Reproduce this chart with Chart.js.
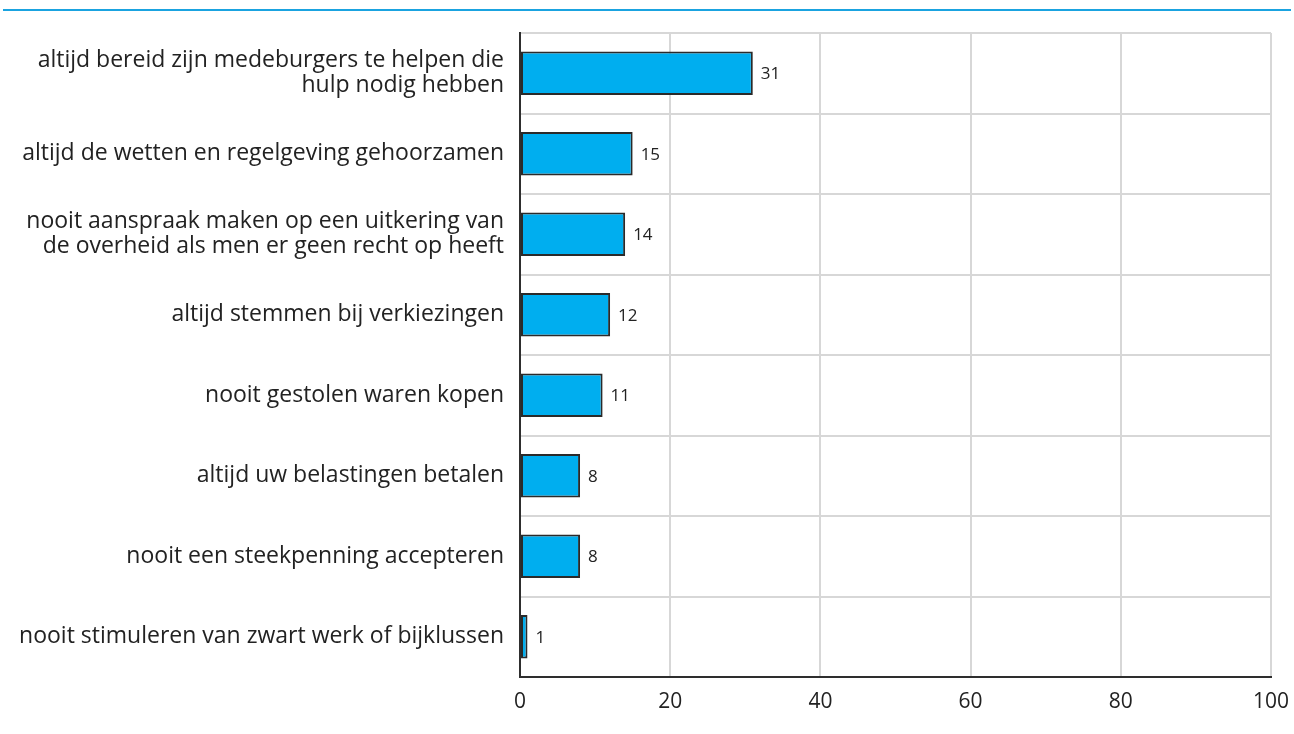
<!DOCTYPE html>
<html>
<head>
<meta charset="utf-8">
<script src="https://cdn.jsdelivr.net/npm/chart.js@4/dist/chart.umd.min.js"></script>
<style>
  html, body { margin: 0; padding: 0; background: #fff; }
  #wrap { position: relative; width: 1294px; height: 734px; }
  #topline { position: absolute; left: 3px; top: 9px; width: 1288px; height: 2px; background: #1aa3e0; }
  canvas { position: absolute; left: 0; top: 0; }
</style>
</head>
<body>
<div id="wrap">
  <canvas id="c" width="1294" height="734"></canvas>
  <div id="topline"></div>
</div>
<script>
const categories = [
  ["altijd bereid zijn medeburgers te helpen die", "hulp nodig hebben"],
  "altijd de wetten en regelgeving gehoorzamen",
  ["nooit aanspraak maken op een uitkering van", "de overheid als men er geen recht op heeft"],
  "altijd stemmen bij verkiezingen",
  "nooit gestolen waren kopen",
  "altijd uw belastingen betalen",
  "nooit een steekpenning accepteren",
  "nooit stimuleren van zwart werk of bijklussen"
];
const values = [31, 15, 14, 12, 11, 8, 8, 1];
const xTicks = [0, 20, 40, 60, 80, 100];

const FONT = "'Open Sans', 'Noto Sans', sans-serif";

const valueLabels = {
  id: 'valueLabels',
  afterDatasetsDraw(chart) {
    const ctx = chart.ctx;
    const meta = chart.getDatasetMeta(0);
    ctx.save();
    ctx.font = "17px " + FONT;
    ctx.fillStyle = "#222";
    ctx.textAlign = "left";
    ctx.textBaseline = "middle";
    meta.data.forEach((bar, i) => {
      ctx.fillText(String(values[i]), bar.x + 8, bar.y + 1);
    });
    ctx.restore();
  }
};

new Chart(document.getElementById('c'), {
  type: 'bar',
  data: {
    labels: categories,
    datasets: [{
      data: values,
      backgroundColor: '#00aeef',
      borderColor: '#2a2a2a',
      borderWidth: 2,
      borderSkipped: false,
      categoryPercentage: 0.54,
      barPercentage: 1.0
    }]
  },
  options: {
    indexAxis: 'y',
    responsive: false,
    animation: false,
    layout: { padding: { top: 33, right: 23, bottom: 0, left: 0 } },
    plugins: { legend: { display: false }, tooltip: { enabled: false } },
    scales: {
      x: {
        min: 0, max: 100,
        afterBuildTicks(scale) { scale.ticks = xTicks.map(v => ({ value: v })); },
        afterFit(scale) { scale.height = 57; scale.paddingRight = 0; scale.paddingLeft = 0; },
        grid: { color: '#d7d7d7', lineWidth: 2, drawTicks: false },
        border: { color: '#2e2e2e', width: 2 },
        ticks: { color: '#222', font: { family: FONT, size: 21 }, padding: 12 }
      },
      y: {
        afterFit(scale) { scale.width = 520; },
        grid: { color: '#d7d7d7', lineWidth: 2, drawTicks: false, offset: true },
        border: { color: '#2e2e2e', width: 2 },
        ticks: { color: '#222', font: { family: FONT, size: 23, lineHeight: 1.1 }, padding: 16 }
      }
    }
  },
  plugins: [valueLabels]
});
</script>
</body>
</html>
